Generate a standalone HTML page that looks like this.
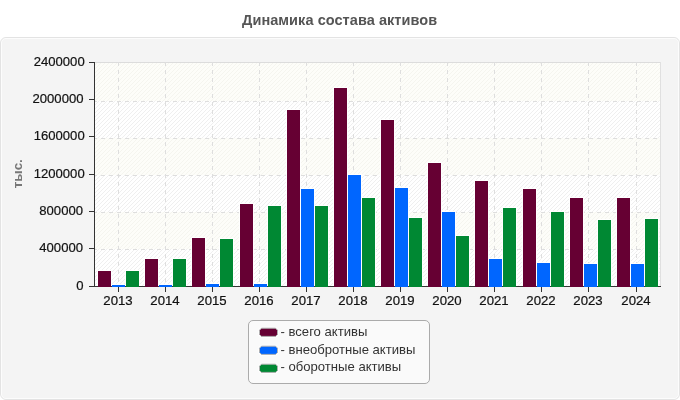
<!DOCTYPE html>
<html lang="ru"><head><meta charset="utf-8"><title>Динамика состава активов</title>
<style>
html,body{margin:0;padding:0;background:#fff;}
body{width:680px;height:400px;overflow:hidden;font-family:"Liberation Sans",Arial,sans-serif;}
svg{display:block;}
text{font-family:"Liberation Sans",Arial,sans-serif;}
</style></head><body>
<svg width="680" height="400" viewBox="0 0 680 400">
<defs>
<pattern id="h1" width="4" height="4" patternUnits="userSpaceOnUse">
<rect width="4" height="4" fill="#ffffff"/>
<path d="M0,3h1v1h-1z M1,2h1v1h-1z M2,1h1v1h-1z M3,0h1v1h-1z" fill="#efefef"/>
</pattern>
<pattern id="h2" width="4" height="4" patternUnits="userSpaceOnUse">
<rect width="4" height="4" fill="#fdfdf9"/>
<path d="M0,3h1v1h-1z M1,2h1v1h-1z M2,1h1v1h-1z M3,0h1v1h-1z" fill="#f5f5ef"/>
</pattern>
</defs>
<rect x="0" y="0" width="680" height="400" fill="#ffffff"/>
<text x="339.6" y="25.4" text-anchor="middle" font-size="14.5" letter-spacing="0.06" font-weight="bold" fill="#555555">Динамика состава активов</text>
<rect x="0.5" y="37.5" width="679" height="362" rx="5.5" ry="5.5" fill="#f4f4f4" stroke="#e3e3e3" stroke-width="1"/>
<rect x="1.5" y="38.5" width="677" height="360" rx="4.5" ry="4.5" fill="none" stroke="#fcfcfc" stroke-width="1"/>

<g shape-rendering="crispEdges">
<rect x="95" y="62" width="566" height="225" fill="url(#h1)"/>
<rect x="95" y="63" width="566" height="38" fill="url(#h2)"/>
<rect x="95" y="138" width="566" height="37" fill="url(#h2)"/>
<rect x="95" y="212" width="566" height="37" fill="url(#h2)"/>
<rect x="95" y="62" width="566" height="1" fill="#dcdcdc"/>
<rect x="660" y="62" width="1" height="225" fill="#e0e0e0"/>
<line x1="95" x2="660" y1="249.5" y2="249.5" stroke="#dedede" stroke-width="1" stroke-dasharray="4 4" stroke-dashoffset="2"/>
<line x1="95" x2="660" y1="212.5" y2="212.5" stroke="#dedede" stroke-width="1" stroke-dasharray="4 4" stroke-dashoffset="2"/>
<line x1="95" x2="660" y1="175.5" y2="175.5" stroke="#dedede" stroke-width="1" stroke-dasharray="4 4" stroke-dashoffset="2"/>
<line x1="95" x2="660" y1="138.5" y2="138.5" stroke="#dedede" stroke-width="1" stroke-dasharray="4 4" stroke-dashoffset="2"/>
<line x1="95" x2="660" y1="101.5" y2="101.5" stroke="#dedede" stroke-width="1" stroke-dasharray="4 4" stroke-dashoffset="2"/>
<line x1="118.5" x2="118.5" y1="62" y2="286" stroke="#dedede" stroke-width="1" stroke-dasharray="4 4"/>
<line x1="165.5" x2="165.5" y1="62" y2="286" stroke="#dedede" stroke-width="1" stroke-dasharray="4 4"/>
<line x1="212.5" x2="212.5" y1="62" y2="286" stroke="#dedede" stroke-width="1" stroke-dasharray="4 4"/>
<line x1="259.5" x2="259.5" y1="62" y2="286" stroke="#dedede" stroke-width="1" stroke-dasharray="4 4"/>
<line x1="306.5" x2="306.5" y1="62" y2="286" stroke="#dedede" stroke-width="1" stroke-dasharray="4 4"/>
<line x1="353.5" x2="353.5" y1="62" y2="286" stroke="#dedede" stroke-width="1" stroke-dasharray="4 4"/>
<line x1="400.5" x2="400.5" y1="62" y2="286" stroke="#dedede" stroke-width="1" stroke-dasharray="4 4"/>
<line x1="447.5" x2="447.5" y1="62" y2="286" stroke="#dedede" stroke-width="1" stroke-dasharray="4 4"/>
<line x1="494.5" x2="494.5" y1="62" y2="286" stroke="#dedede" stroke-width="1" stroke-dasharray="4 4"/>
<line x1="541.5" x2="541.5" y1="62" y2="286" stroke="#dedede" stroke-width="1" stroke-dasharray="4 4"/>
<line x1="588.5" x2="588.5" y1="62" y2="286" stroke="#dedede" stroke-width="1" stroke-dasharray="4 4"/>
<line x1="636.5" x2="636.5" y1="62" y2="286" stroke="#dedede" stroke-width="1" stroke-dasharray="4 4"/>
<rect x="94" y="62" width="1" height="225" fill="#333"/>
<rect x="94" y="286" width="567" height="1" fill="#333"/>
<rect x="89" y="286" width="5" height="1" fill="#333"/>
<rect x="89" y="248" width="5" height="1" fill="#333"/>
<rect x="89" y="211" width="5" height="1" fill="#333"/>
<rect x="89" y="174" width="5" height="1" fill="#333"/>
<rect x="89" y="136" width="5" height="1" fill="#333"/>
<rect x="89" y="99" width="5" height="1" fill="#333"/>
<rect x="89" y="62" width="5" height="1" fill="#333"/>
<rect x="118" y="287" width="1" height="5" fill="#333"/>
<rect x="165" y="287" width="1" height="5" fill="#333"/>
<rect x="212" y="287" width="1" height="5" fill="#333"/>
<rect x="259" y="287" width="1" height="5" fill="#333"/>
<rect x="306" y="287" width="1" height="5" fill="#333"/>
<rect x="353" y="287" width="1" height="5" fill="#333"/>
<rect x="400" y="287" width="1" height="5" fill="#333"/>
<rect x="447" y="287" width="1" height="5" fill="#333"/>
<rect x="494" y="287" width="1" height="5" fill="#333"/>
<rect x="541" y="287" width="1" height="5" fill="#333"/>
<rect x="588" y="287" width="1" height="5" fill="#333"/>
<rect x="636" y="287" width="1" height="5" fill="#333"/>
<rect x="97" y="270" width="15" height="16" fill="#ffffff" fill-opacity="0.92"/>
<rect x="111" y="284" width="15" height="2" fill="#ffffff" fill-opacity="0.92"/>
<rect x="125" y="270" width="15" height="16" fill="#ffffff" fill-opacity="0.92"/>
<rect x="144" y="258" width="15" height="28" fill="#ffffff" fill-opacity="0.92"/>
<rect x="158" y="284" width="15" height="2" fill="#ffffff" fill-opacity="0.92"/>
<rect x="172" y="258" width="15" height="28" fill="#ffffff" fill-opacity="0.92"/>
<rect x="191" y="237" width="15" height="49" fill="#ffffff" fill-opacity="0.92"/>
<rect x="205" y="283" width="15" height="3" fill="#ffffff" fill-opacity="0.92"/>
<rect x="219" y="238" width="15" height="48" fill="#ffffff" fill-opacity="0.92"/>
<rect x="239" y="203" width="15" height="83" fill="#ffffff" fill-opacity="0.92"/>
<rect x="253" y="283" width="15" height="3" fill="#ffffff" fill-opacity="0.92"/>
<rect x="267" y="205" width="15" height="81" fill="#ffffff" fill-opacity="0.92"/>
<rect x="286" y="109" width="15" height="177" fill="#ffffff" fill-opacity="0.92"/>
<rect x="300" y="188" width="15" height="98" fill="#ffffff" fill-opacity="0.92"/>
<rect x="314" y="205" width="15" height="81" fill="#ffffff" fill-opacity="0.92"/>
<rect x="333" y="87" width="15" height="199" fill="#ffffff" fill-opacity="0.92"/>
<rect x="347" y="174" width="15" height="112" fill="#ffffff" fill-opacity="0.92"/>
<rect x="361" y="197" width="15" height="89" fill="#ffffff" fill-opacity="0.92"/>
<rect x="380" y="119" width="15" height="167" fill="#ffffff" fill-opacity="0.92"/>
<rect x="394" y="187" width="15" height="99" fill="#ffffff" fill-opacity="0.92"/>
<rect x="408" y="217" width="15" height="69" fill="#ffffff" fill-opacity="0.92"/>
<rect x="427" y="162" width="15" height="124" fill="#ffffff" fill-opacity="0.92"/>
<rect x="441" y="211" width="15" height="75" fill="#ffffff" fill-opacity="0.92"/>
<rect x="455" y="235" width="15" height="51" fill="#ffffff" fill-opacity="0.92"/>
<rect x="474" y="180" width="15" height="106" fill="#ffffff" fill-opacity="0.92"/>
<rect x="488" y="258" width="15" height="28" fill="#ffffff" fill-opacity="0.92"/>
<rect x="502" y="207" width="15" height="79" fill="#ffffff" fill-opacity="0.92"/>
<rect x="522" y="188" width="15" height="98" fill="#ffffff" fill-opacity="0.92"/>
<rect x="536" y="262" width="15" height="24" fill="#ffffff" fill-opacity="0.92"/>
<rect x="550" y="211" width="15" height="75" fill="#ffffff" fill-opacity="0.92"/>
<rect x="569" y="197" width="15" height="89" fill="#ffffff" fill-opacity="0.92"/>
<rect x="583" y="263" width="15" height="23" fill="#ffffff" fill-opacity="0.92"/>
<rect x="597" y="219" width="15" height="67" fill="#ffffff" fill-opacity="0.92"/>
<rect x="616" y="197" width="15" height="89" fill="#ffffff" fill-opacity="0.92"/>
<rect x="630" y="263" width="15" height="23" fill="#ffffff" fill-opacity="0.92"/>
<rect x="644" y="218" width="15" height="68" fill="#ffffff" fill-opacity="0.92"/>
<rect x="98" y="271" width="13" height="16" fill="#660033"/>
<rect x="112" y="285" width="13" height="2" fill="#0066ff"/>
<rect x="126" y="271" width="13" height="16" fill="#008833"/>
<rect x="145" y="259" width="13" height="28" fill="#660033"/>
<rect x="159" y="285" width="13" height="2" fill="#0066ff"/>
<rect x="173" y="259" width="13" height="28" fill="#008833"/>
<rect x="192" y="238" width="13" height="49" fill="#660033"/>
<rect x="206" y="284" width="13" height="3" fill="#0066ff"/>
<rect x="220" y="239" width="13" height="48" fill="#008833"/>
<rect x="240" y="204" width="13" height="83" fill="#660033"/>
<rect x="254" y="284" width="13" height="3" fill="#0066ff"/>
<rect x="268" y="206" width="13" height="81" fill="#008833"/>
<rect x="287" y="110" width="13" height="177" fill="#660033"/>
<rect x="301" y="189" width="13" height="98" fill="#0066ff"/>
<rect x="315" y="206" width="13" height="81" fill="#008833"/>
<rect x="334" y="88" width="13" height="199" fill="#660033"/>
<rect x="348" y="175" width="13" height="112" fill="#0066ff"/>
<rect x="362" y="198" width="13" height="89" fill="#008833"/>
<rect x="381" y="120" width="13" height="167" fill="#660033"/>
<rect x="395" y="188" width="13" height="99" fill="#0066ff"/>
<rect x="409" y="218" width="13" height="69" fill="#008833"/>
<rect x="428" y="163" width="13" height="124" fill="#660033"/>
<rect x="442" y="212" width="13" height="75" fill="#0066ff"/>
<rect x="456" y="236" width="13" height="51" fill="#008833"/>
<rect x="475" y="181" width="13" height="106" fill="#660033"/>
<rect x="489" y="259" width="13" height="28" fill="#0066ff"/>
<rect x="503" y="208" width="13" height="79" fill="#008833"/>
<rect x="523" y="189" width="13" height="98" fill="#660033"/>
<rect x="537" y="263" width="13" height="24" fill="#0066ff"/>
<rect x="551" y="212" width="13" height="75" fill="#008833"/>
<rect x="570" y="198" width="13" height="89" fill="#660033"/>
<rect x="584" y="264" width="13" height="23" fill="#0066ff"/>
<rect x="598" y="220" width="13" height="67" fill="#008833"/>
<rect x="617" y="198" width="13" height="89" fill="#660033"/>
<rect x="631" y="264" width="13" height="23" fill="#0066ff"/>
<rect x="645" y="219" width="13" height="68" fill="#008833"/>
</g>
<text x="83.5" y="289.8" text-anchor="end" font-size="13.1" fill="#111" stroke="#111" stroke-width="0.2">0</text>
<text x="83.0" y="251.8" text-anchor="end" font-size="13.1" fill="#111" stroke="#111" stroke-width="0.2">400000</text>
<text x="83.0" y="214.8" text-anchor="end" font-size="13.1" fill="#111" stroke="#111" stroke-width="0.2">800000</text>
<text x="84.7" y="177.8" text-anchor="end" font-size="13.1" fill="#111" stroke="#111" stroke-width="0.2">1200000</text>
<text x="84.7" y="139.8" text-anchor="end" font-size="13.1" fill="#111" stroke="#111" stroke-width="0.2">1600000</text>
<text x="83.5" y="102.8" text-anchor="end" font-size="13.1" fill="#111" stroke="#111" stroke-width="0.2">2000000</text>
<text x="84.7" y="65.8" text-anchor="end" font-size="13.1" fill="#111" stroke="#111" stroke-width="0.2">2400000</text>
<text x="118" y="305" text-anchor="middle" font-size="13.2" fill="#111" stroke="#111" stroke-width="0.2">2013</text>
<text x="165" y="305" text-anchor="middle" font-size="13.2" fill="#111" stroke="#111" stroke-width="0.2">2014</text>
<text x="212" y="305" text-anchor="middle" font-size="13.2" fill="#111" stroke="#111" stroke-width="0.2">2015</text>
<text x="259" y="305" text-anchor="middle" font-size="13.2" fill="#111" stroke="#111" stroke-width="0.2">2016</text>
<text x="306" y="305" text-anchor="middle" font-size="13.2" fill="#111" stroke="#111" stroke-width="0.2">2017</text>
<text x="353" y="305" text-anchor="middle" font-size="13.2" fill="#111" stroke="#111" stroke-width="0.2">2018</text>
<text x="400" y="305" text-anchor="middle" font-size="13.2" fill="#111" stroke="#111" stroke-width="0.2">2019</text>
<text x="447" y="305" text-anchor="middle" font-size="13.2" fill="#111" stroke="#111" stroke-width="0.2">2020</text>
<text x="494" y="305" text-anchor="middle" font-size="13.2" fill="#111" stroke="#111" stroke-width="0.2">2021</text>
<text x="541" y="305" text-anchor="middle" font-size="13.2" fill="#111" stroke="#111" stroke-width="0.2">2022</text>
<text x="588" y="305" text-anchor="middle" font-size="13.2" fill="#111" stroke="#111" stroke-width="0.2">2023</text>
<text x="636" y="305" text-anchor="middle" font-size="13.2" fill="#111" stroke="#111" stroke-width="0.2">2024</text>
<text transform="translate(22.2,188.2) rotate(-90)" font-size="13.3" font-weight="bold" fill="#777777">тыс.</text>
<rect x="248.5" y="320.5" width="181" height="63" rx="4.5" ry="4.5" fill="#fafafa" stroke="#ababab" stroke-width="1"/>
<polygon points="261.5,328.2 275.5,328.2 277.5,330.2 277.5,334.4 275.5,336.4 261.5,336.4 259.5,334.4 259.5,330.2" fill="none" stroke="#ffffff" stroke-opacity="0.7" stroke-width="3" stroke-linejoin="round"/>
<polygon points="261.5,328.2 275.5,328.2 277.5,330.2 277.5,334.4 275.5,336.4 261.5,336.4 259.5,334.4 259.5,330.2" fill="#660033" stroke="#b0b0b0" stroke-width="1" stroke-linejoin="round"/>
<text x="280.5" y="336.4" font-size="13.1" fill="#333333">- всего активы</text>
<polygon points="261.5,346.2 275.5,346.2 277.5,348.2 277.5,352.4 275.5,354.4 261.5,354.4 259.5,352.4 259.5,348.2" fill="none" stroke="#ffffff" stroke-opacity="0.7" stroke-width="3" stroke-linejoin="round"/>
<polygon points="261.5,346.2 275.5,346.2 277.5,348.2 277.5,352.4 275.5,354.4 261.5,354.4 259.5,352.4 259.5,348.2" fill="#0066ff" stroke="#b0b0b0" stroke-width="1" stroke-linejoin="round"/>
<text x="280.5" y="353.9" font-size="13.1" fill="#333333">- внеобротные активы</text>
<polygon points="261.5,364.2 275.5,364.2 277.5,366.2 277.5,370.4 275.5,372.4 261.5,372.4 259.5,370.4 259.5,366.2" fill="none" stroke="#ffffff" stroke-opacity="0.7" stroke-width="3" stroke-linejoin="round"/>
<polygon points="261.5,364.2 275.5,364.2 277.5,366.2 277.5,370.4 275.5,372.4 261.5,372.4 259.5,370.4 259.5,366.2" fill="#008833" stroke="#b0b0b0" stroke-width="1" stroke-linejoin="round"/>
<text x="280.5" y="371.4" font-size="13.1" fill="#333333">- оборотные активы</text>
</svg></body></html>
